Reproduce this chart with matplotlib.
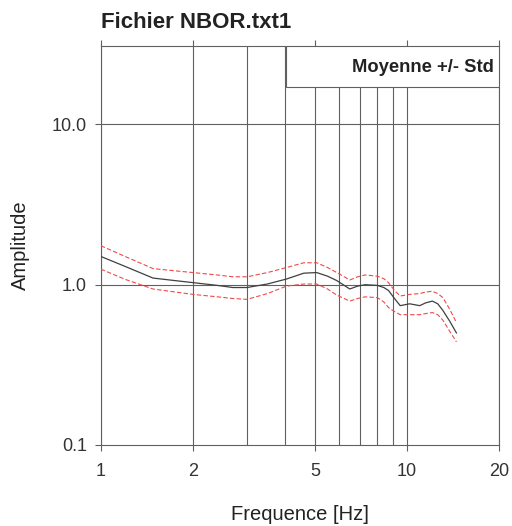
import matplotlib.pyplot as plt
from matplotlib.patches import Rectangle

plt.rcParams['font.family'] = ['Liberation Sans', 'DejaVu Sans']

freq = [1.0, 1.2, 1.48, 1.75, 2.0, 2.4, 2.7, 3.0, 3.5, 4.04, 4.6, 5.07, 5.5, 5.9, 6.5, 6.9, 7.3, 8.0, 8.4, 8.7, 9.1, 9.5, 10.2, 11.0, 11.5, 12.1, 12.6, 13.1, 13.8, 14.5]
mean = [1.50, 1.30, 1.10, 1.06, 1.03, 0.99, 0.96, 0.96, 1.01, 1.085, 1.18, 1.19, 1.13, 1.06, 0.94, 0.98, 1.00, 0.99, 0.96, 0.92, 0.82, 0.74, 0.76, 0.74, 0.77, 0.79, 0.76, 0.69, 0.59, 0.50]
upper = [1.75, 1.50, 1.26, 1.22, 1.19, 1.15, 1.12, 1.12, 1.19, 1.28, 1.37, 1.37, 1.28, 1.19, 1.07, 1.12, 1.15, 1.13, 1.09, 1.03, 0.92, 0.85, 0.87, 0.88, 0.90, 0.91, 0.88, 0.83, 0.70, 0.58]
lower = [1.25, 1.08, 0.94, 0.90, 0.87, 0.84, 0.82, 0.81, 0.88, 0.98, 1.01, 1.01, 0.94, 0.86, 0.79, 0.82, 0.84, 0.83, 0.78, 0.72, 0.68, 0.65, 0.65, 0.65, 0.66, 0.67, 0.65, 0.60, 0.51, 0.44]

xgrid = [1, 2, 3, 4, 5, 6, 7, 8, 9, 10, 20]
ygrid = [1, 10]
xticks = [1, 2, 5, 10, 20]
xticklabels = ['1', '2', '5', '10', '20']
yticks = [0.1, 1, 10]
yticklabels = ['0.1', '1.0', '10.0']

fig = plt.figure(figsize=(5.12, 5.26), dpi=100)
ax = fig.add_axes([0.197, 0.154, 0.778, 0.758])
ax.set_xscale('log')
ax.set_yscale('log')
ax.set_xlim(1, 20)
ax.set_ylim(0.1, 30.7)

for x in xgrid:
    ax.axvline(x, color='#606060', lw=0.8, zorder=1)
for y in ygrid:
    ax.axhline(y, color='#606060', lw=0.8, zorder=1)

ax.plot(freq, mean, color='#404040', lw=0.9, zorder=3)
ax.plot(freq, upper, color='#f04a4a', lw=0.8, ls=(0, (4, 2)), zorder=3)
ax.plot(freq, lower, color='#f04a4a', lw=0.8, ls=(0, (4, 2)), zorder=3)

# legend box
ax.add_patch(Rectangle((0.465, 0.897), 0.535, 0.103, transform=ax.transAxes,
                       facecolor='white', edgecolor='#606060', lw=0.8, zorder=4))
ax.text(0.987, 0.948, 'Moyenne +/- Std', transform=ax.transAxes, ha='right', va='center',
        fontsize=13.2, fontweight='bold', color='#222222', zorder=5)

ax.set_xticks(xticks)
ax.set_xticklabels(xticklabels)
ax.set_yticks(yticks)
ax.set_yticklabels(yticklabels)
ax.minorticks_off()
ax.tick_params(axis='both', labelsize=13, length=4, width=0.8, color='#606060',
               labelcolor='#333333', pad=6)
ax.tick_params(axis='x', top=True, pad=9)
ax.tick_params(axis='y', right=False)

for s in ax.spines.values():
    s.set_color('#606060')
    s.set_linewidth(0.8)

ax.set_xlabel('Frequence [Hz]', fontsize=14.5, color='#222222', labelpad=18)
ax.set_ylabel('Amplitude', fontsize=14.5, color='#222222', labelpad=16)
fig.text(0.197, 0.958, 'Fichier NBOR.txt1', fontsize=16, fontweight='bold', color='#222222',
         ha='left', va='center')

fig.savefig('out.png', dpi=100)
